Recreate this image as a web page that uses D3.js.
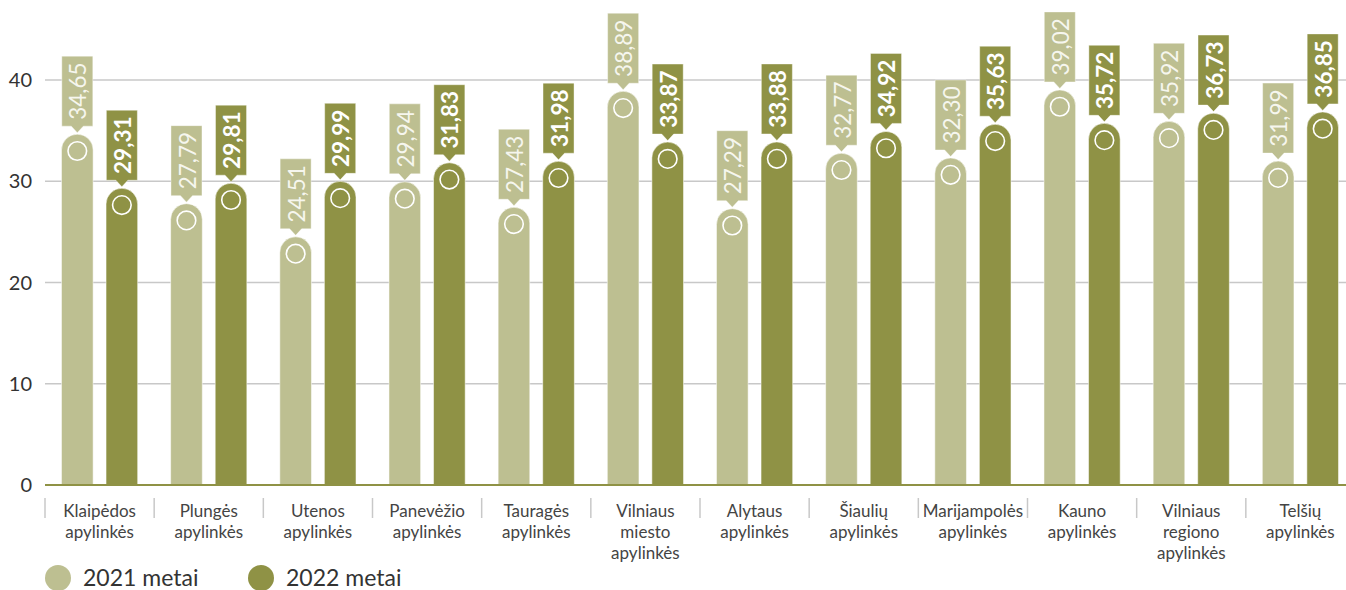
<!DOCTYPE html>
<html><head><meta charset="utf-8">
<script src="https://cdn.jsdelivr.net/npm/d3@7/dist/d3.min.js"></script>
<style>body{margin:0;background:#fff;}svg{display:block;font-family:Lato,"Open Sans",sans-serif;}</style>
</head><body>
<svg id="c" width="1346" height="590"></svg>
<script>
const categories = ["Klaipėdos\napylinkės","Plungės\napylinkės","Utenos\napylinkės","Panevėžio\napylinkės","Tauragės\napylinkės","Vilniaus\nmiesto\napylinkės","Alytaus\napylinkės","Šiaulių\napylinkės","Marijampolės\napylinkės","Kauno\napylinkės","Vilniaus\nregiono\napylinkės","Telšių\napylinkės"];
const values2021 = [34.65,27.79,24.51,29.94,27.43,38.89,27.29,32.77,32.30,39.02,35.92,31.99];
const values2022 = [29.31,29.81,29.99,31.83,31.98,33.87,33.88,34.92,35.63,35.72,36.73,36.85];
const seriesNames = ["2021 metai","2022 metai"];
const yTicks = [0,10,20,30,40];

const colors = ["#bdbf91","#8f9245"];
const svg = d3.select("#c");
const x = d3.scaleBand().domain(categories).range([45,1355]);
const xs = d3.scaleBand().domain([0,1]).range([0,x.bandwidth()]).paddingInner(0.29).paddingOuter(0.37);
const y = d3.scaleLinear().domain([0,40]).range([485,80]);

// grid
svg.append("g").selectAll("line").data(yTicks.filter(d=>d>0)).join("line")
  .attr("x1",45).attr("x2",1346).attr("y1",d=>y(d)).attr("y2",d=>y(d))
  .attr("stroke","#c8c8c8").attr("stroke-width",1.5);
// y labels
svg.append("g").selectAll("text").data(yTicks).join("text")
  .attr("x",32).attr("y",d=>y(d)).attr("dy","0.35em").attr("text-anchor","end")
  .attr("font-size",20).attr("fill","#333").text(d=>d);

const fmt = v => v.toFixed(2).replace(".",",");
const series = [values2021, values2022];
const bw = xs.bandwidth(), r = bw/2;
series.forEach((vals,si)=>{
  const g = svg.append("g");
  const items = categories.map((c,i)=>({c, v: vals[i]}));
  const gx = d => x(d.c)+xs(si);
  g.selectAll("path.bar").data(items).join("path").attr("class","bar")
    .attr("d", d=>{const x0=gx(d), t=y(d.v), b=y(0);
      return `M${x0},${b}V${t+r}A${r},${r} 0 0 1 ${x0+bw},${t+r}V${b}Z`;})
    .attr("fill",colors[si]).attr("stroke","rgba(255,255,255,0.5)").attr("stroke-width",1);
  g.selectAll("circle").data(items).join("circle")
    .attr("cx",d=>gx(d)+r).attr("cy",d=>y(d.v)+r+1).attr("r",9.3)
    .attr("fill","none").attr("stroke","#fff").attr("stroke-width",1.6);
  // labels
  const bh = 70, bwl = 31;
  g.selectAll("path.lab").data(items).join("path").attr("class","lab")
    .attr("d", d=>{const cx=gx(d)+r, t=y(d.v), bb=t-8, tt=bb-bh;
      return `M${cx-bwl/2},${tt}H${cx+bwl/2}V${bb}H${cx+6}L${cx},${t-1.5}L${cx-6},${bb}H${cx-bwl/2}Z`;})
    .attr("fill",colors[si]).attr("stroke","rgba(255,255,255,0.5)").attr("stroke-width",0.8);
  g.selectAll("text").data(items).join("text")
    .attr("transform",d=>`translate(${gx(d)+r+1},${y(d.v)-8-bh/2}) rotate(-90)`)
    .attr("text-anchor","middle").attr("dy","0.36em")
    .attr("font-size",22.5).attr("font-weight",si===1?"bold":"normal")
    .attr("fill", si===1?"#fff":"#f6f6ee").text(d=>fmt(d.v));
});

// x axis line
svg.append("line").attr("x1",45).attr("x2",1346).attr("y1",y(0)).attr("y2",y(0))
  .attr("stroke","#8f9245").attr("stroke-width",2);
// separators
svg.append("g").selectAll("line").data(categories).join("line")
  .attr("x1",d=>x(d)).attr("x2",d=>x(d)).attr("y1",498).attr("y2",518)
  .attr("stroke","#c8c8c8").attr("stroke-width",1.5);
// category labels
const cl = svg.append("g").selectAll("text").data(categories).join("text")
  .attr("x",d=>x(d)+x.bandwidth()/2).attr("y",517).attr("text-anchor","middle")
  .attr("font-size",17).attr("fill","#444");
cl.each(function(d){
  const t=d3.select(this);
  d.split("\n").forEach((s,i)=>t.append("tspan").attr("x",x(d)+x.bandwidth()/2).attr("dy",i?21:0).text(s));
});
// legend
const lx = [58,261];
seriesNames.forEach((n,i)=>{
  svg.append("circle").attr("cx",lx[i]).attr("cy",578).attr("r",13).attr("fill",colors[i]);
  svg.append("text").attr("x",lx[i]+25).attr("y",578).attr("dy","0.36em")
    .attr("font-size",23).attr("fill","#333").text(n);
});
</script>
</body></html>
